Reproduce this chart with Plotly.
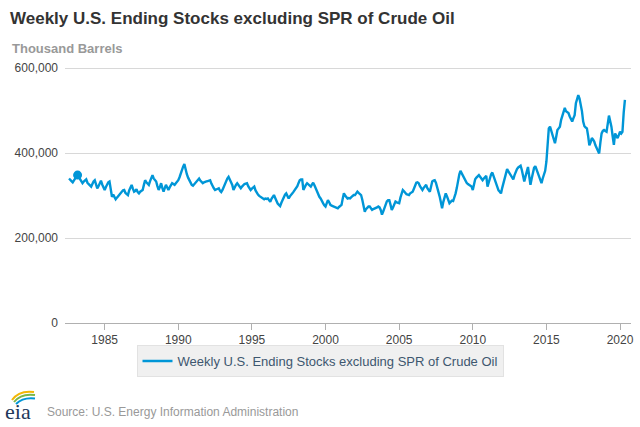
import pandas as pd
import plotly.graph_objects as go

SERIES_NAME = "Weekly U.S. Ending Stocks excluding SPR of Crude Oil"
UNIT = "Thousand Barrels"
SOURCE = "Source: U.S. Energy Information Administration"
FIRST_MONTH = "1982-08-01"

# Thousand barrels (Aug 1982 .. Dec 1989)
stocks_1980s = [
    340000, 338000, 334000, 331000, 336000,
    342000, 345000, 348000, 343000, 338000, 332000, 329000, 333000, 337000, 338000, 330000, 326000,
    324000, 321000, 328000, 333000, 336000, 326000, 317000, 322000, 330000, 335000, 326000, 318000,
    313000, 320000, 327000, 331000, 333000, 314000, 297000, 302000, 296000, 291000, 295000, 299000,
    302000, 305000, 309000, 312000, 313000, 306000, 303000, 301000, 312000, 320000, 325000, 316000,
    309000, 311000, 315000, 308000, 305000, 309000, 311000, 313000, 325000, 336000, 331000, 327000,
    325000, 334000, 342000, 348000, 340000, 336000, 333000, 322000, 313000, 320000, 329000, 318000,
    309000, 318000, 325000, 319000, 313000, 319000, 324000, 329000, 327000, 325000, 329000, 332000,
]
stocks_1990s = [
    336000, 343000, 352000, 361000, 368000, 374000, 360000, 350000, 342000, 336000, 330000, 325000,
    323000, 327000, 329000, 334000, 338000, 340000, 335000, 331000, 329000, 331000, 333000, 333000,
    334000, 335000, 336000, 328000, 321000, 317000, 313000, 315000, 316000, 317000, 311000, 308000,
    313000, 320000, 328000, 336000, 340000, 344000, 338000, 330000, 325000, 313000, 320000, 325000,
    329000, 324000, 320000, 317000, 321000, 325000, 327000, 328000, 329000, 322000, 317000, 313000,
    316000, 319000, 321000, 312000, 305000, 302000, 299000, 297000, 294000, 292000, 291000, 293000,
    292000, 293000, 289000, 285000, 292000, 298000, 301000, 294000, 285000, 281000, 278000, 275000,
    283000, 291000, 297000, 302000, 305000, 299000, 293000, 298000, 303000, 305000, 309000, 313000,
    316000, 322000, 329000, 336000, 338000, 338000, 313000, 320000, 325000, 329000, 326000, 323000,
    321000, 326000, 330000, 324000, 317000, 308000, 300000, 297000, 293000, 289000, 282000, 277000,
]
stocks_2000s = [
    274000, 282000, 289000, 284000, 278000, 276000, 275000, 274000, 272000, 271000, 270000, 273000,
    276000, 278000, 292000, 305000, 300000, 296000, 293000, 294000, 293000, 296000, 299000, 301000,
    301000, 305000, 309000, 306000, 303000, 301000, 290000, 278000, 262000, 268000, 272000, 274000,
    274000, 270000, 266000, 268000, 269000, 270000, 272000, 274000, 272000, 266000, 255000, 262000,
    270000, 282000, 286000, 289000, 289000, 278000, 266000, 272000, 280000, 286000, 284000, 282000,
    282000, 295000, 305000, 313000, 310000, 305000, 303000, 302000, 301000, 305000, 307000, 309000,
    316000, 323000, 330000, 331000, 329000, 322000, 317000, 313000, 318000, 322000, 325000, 317000,
    312000, 309000, 320000, 333000, 335000, 336000, 330000, 321000, 310000, 298000, 284000, 270000,
    285000, 297000, 305000, 298000, 290000, 282000, 285000, 288000, 287000, 295000, 305000, 318000,
    338000, 350000, 358000, 352000, 345000, 338000, 333000, 330000, 327000, 325000, 323000, 321000,
]
stocks_2010s = [
    313000, 330000, 338000, 342000, 346000, 348000, 344000, 340000, 336000, 340000, 344000, 346000,
    321000, 332000, 342000, 350000, 354000, 345000, 336000, 326000, 317000, 312000, 309000, 305000,
    318000, 331000, 344000, 356000, 362000, 357000, 352000, 350000, 345000, 338000, 348000, 358000,
    362000, 366000, 368000, 370000, 360000, 345000, 333000, 345000, 358000, 367000, 345000, 325000,
    340000, 355000, 365000, 369000, 360000, 352000, 343000, 335000, 329000, 340000, 347000, 358000,
    380000, 420000, 458000, 462000, 452000, 440000, 430000, 423000, 438000, 454000, 458000, 462000,
    478000, 489000, 500000, 506000, 498000, 496000, 494000, 486000, 479000, 474000, 482000, 489000,
    517000, 528000, 536000, 528000, 515000, 498000, 474000, 463000, 460000, 458000, 440000, 418000,
    425000, 435000, 432000, 427000, 418000, 411000, 405000, 399000, 425000, 446000, 452000, 454000,
    452000, 450000, 468000, 488000, 475000, 462000, 440000, 419000, 446000, 440000, 435000, 442000,
]
stocks_2020 = [450000, 446000, 450000, 495000, 525000]

y_ticks = [0, 200000, 400000, 600000]
highlight_index = 7  # Mar 1983, the highlighted point

values = stocks_1980s + stocks_1990s + stocks_2000s + stocks_2010s + stocks_2020
dates = pd.date_range(FIRST_MONTH, periods=len(values), freq="MS")

BLUE = "#0096d7"
FONT = "Liberation Sans, Arial, sans-serif"

# plot area in pixels: x 65..631, y 64..323 (600,000 gridline at ~68, 0 at 323)
L, R, T, B = 65, 631, 64, 323
Y_TOP = 600000 * (B - T) / float(B - 68)


def px(x):
    return (x - L) / float(R - L)


def py(y):
    return (B - y) / float(B - T)


fig = go.Figure()
fig.add_trace(go.Scatter(
    x=dates, y=values, mode="lines", name=SERIES_NAME,
    line=dict(color=BLUE, width=2.4),
))
fig.add_trace(go.Scatter(
    x=[dates[highlight_index]], y=[values[highlight_index]], mode="markers",
    marker=dict(color=BLUE, size=9), showlegend=False, hoverinfo="skip",
))

fig.update_layout(
    width=640, height=427,
    margin=dict(l=L, r=640 - R, t=T, b=427 - B, autoexpand=False),
    paper_bgcolor="white", plot_bgcolor="white",
    font=dict(family=FONT, color="#444", size=12),
    title=dict(
        text="<b>Weekly U.S. Ending Stocks excluding SPR of Crude Oil</b>",
        x=10 / 640, xanchor="left", xref="container",
        y=1 - 18 / 427, yanchor="middle", yref="container",
        font=dict(size=17, color="#333", family=FONT),
    ),
    xaxis=dict(
        type="date",
        range=["1982-04-23", "2020-09-29"],
        tick0="1985-01-01", dtick="M60", tickformat="%Y",
        showgrid=False, zeroline=False, automargin=False,
        showline=True, linecolor="#b0b0b0", linewidth=1,
        ticks="outside", ticklen=6, tickcolor="#b0b0b0",
        tickfont=dict(size=12, color="#444"),
    ),
    yaxis=dict(
        range=[0, Y_TOP], tickvals=y_ticks, tickformat=",d",
        showgrid=True, gridcolor="#d8d8d8", gridwidth=1,
        zeroline=False, showline=False, automargin=False,
        tickfont=dict(size=12, color="#444"),
        ticklabelstandoff=6,
    ),
    showlegend=True,
    legend=dict(
        orientation="h",
        x=px(320), xanchor="center", xref="paper",
        y=py(345), yanchor="top", yref="paper",
        bgcolor="#f0f0f0", bordercolor="#e2e2e2", borderwidth=1,
        font=dict(size=13, color="#3e576f", family=FONT),
        itemwidth=30,
    ),
    hovermode=False,
)

fig.add_annotation(
    text="<b>" + UNIT + "</b>", xref="paper", yref="paper",
    x=px(10), y=py(49), xanchor="left", yanchor="middle",
    showarrow=False, font=dict(size=13, color="#999", family=FONT),
)
fig.add_annotation(
    text=SOURCE, xref="paper", yref="paper",
    x=px(45), y=py(412), xanchor="left", yanchor="middle",
    showarrow=False, font=dict(size=12, color="#999", family=FONT),
)
# eia logo
fig.add_annotation(
    text="eia", xref="paper", yref="paper",
    x=px(3), y=py(411), xanchor="left", yanchor="middle",
    showarrow=False, font=dict(size=22, color="#22385a", family="Liberation Serif, serif"),
)


def arc(p0, c, p1):
    return "M {},{} Q {},{} {},{}".format(px(p0[0]), py(p0[1]), px(c[0]), py(c[1]), px(p1[0]), py(p1[1]))


for p0, c, p1, col in [
    ((12, 400), (19, 390), (34, 392), "#f2b705"),
    ((14, 402), (21, 393), (35, 395), "#7ab648"),
    ((16, 404), (23, 397), (35, 398.5), BLUE),
]:
    fig.add_shape(type="path", path=arc(p0, c, p1), xref="paper", yref="paper",
                  line=dict(color=col, width=2))

fig.write_html(
    "out.html",
    config={"displayModeBar": False, "staticPlot": True},
    post_script="document.body.style.margin='0';",
)
